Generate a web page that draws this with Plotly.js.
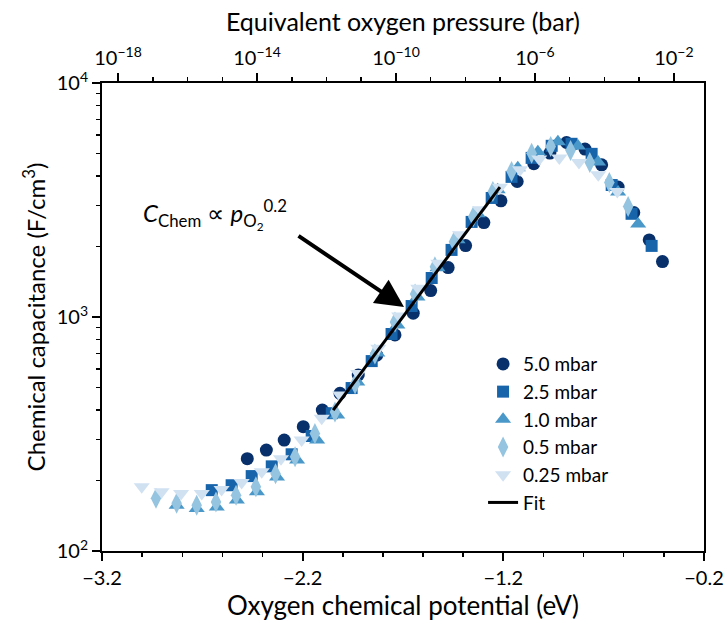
<!DOCTYPE html>
<html>
<head>
<meta charset="utf-8">
<script src="https://cdn.plot.ly/plotly-3.0.1.min.js"></script>
<style>html,body{margin:0;padding:0;background:#fff;}#chart{width:724px;height:628px;}</style>
</head>
<body>
<div id="chart"></div>
<script>
// Oxygen chemical potential (eV) and chemical capacitance (F/cm^3)
const mu50 = [-2.476,-2.381,-2.292,-2.197,-2.102,-2.014,-1.923,-1.831,-1.740,-1.649,-1.562,-1.475,-1.388,-1.297,-1.212,-1.131,-1.048,-0.968,-0.885,-0.793,-0.710,-0.628,-0.550,-0.473,-0.407];
const c50  = [248,270,298,340,400,472,565,687,838,1038,1297,1626,2019,2533,3136,3793,4518,5016,5567,5220,4470,3590,2794,2134,1726];

const mu25 = [-2.653,-2.554,-2.454,-2.354,-2.255,-2.155,-2.055,-1.956,-1.856,-1.757,-1.657,-1.557,-1.458,-1.358,-1.258,-1.159,-1.059,-0.959,-0.860,-0.760,-0.660,-0.561,-0.461];
const c25  = [182,191,209,230,259,310,388,497,648,846,1114,1468,1935,2549,3226,3970,4786,5390,5498,4980,3664,2761,2013];

const mu10 = [-2.828,-2.728,-2.628,-2.528,-2.428,-2.328,-2.228,-2.128,-2.028,-1.928,-1.828,-1.728,-1.628,-1.528,-1.428,-1.328,-1.228,-1.128,-1.028,-0.928,-0.828,-0.728,-0.628,-0.528];
const c10  = [157,152,154,165,179,207,245,298,381,527,702,925,1219,1622,2138,2761,3494,4341,5082,5606,5386,4597,3420,2500];

const mu05 = [-2.931,-2.828,-2.728,-2.632,-2.532,-2.433,-2.335,-2.238,-2.139,-2.039,-1.939,-1.840,-1.740,-1.640,-1.541,-1.446,-1.350,-1.252,-1.159,-1.059,-0.964,-0.865,-0.769,-0.672,-0.578];
const c05  = [168,160,157,162,173,188,214,253,318,393,517,695,951,1254,1641,2099,2685,3436,4186,5012,5354,5152,4575,3758,2967];

const mu025 = [-3.002,-2.903,-2.806,-2.703,-2.604,-2.504,-2.404,-2.308,-2.205,-2.105,-2.014,-1.923,-1.823,-1.719,-1.624,-1.524,-1.416,-1.317,-1.217,-1.117,-1.021,-0.921,-0.823,-0.727,-0.632];
const c025  = [188,179,176,176,183,196,218,248,298,369,464,574,735,1009,1327,1698,2244,2871,3589,4256,4730,4778,4575,4052,3436];

const muFit = [-2.048,-1.217];
const cFit  = [400,3590];

const seriesNames = ['5.0 mbar','2.5 mbar','1.0 mbar','0.5 mbar','0.25 mbar','Fit'];

// Top axis: equivalent oxygen pressure (bar), log10 range matching -3.2 .. -0.2 eV
const pRangeLog = [-18.462,-1.133];
const pTickVals = [1e-18,1e-14,1e-10,1e-6,1e-2];
const pTickText = ['10<sup>−18</sup>','10<sup>−14</sup>','10<sup>−10</sup>','10<sup>−6</sup>','10<sup>−2</sup>'];
const pMinorVals = [];
for (let e = -18; e <= -2; e++) pMinorVals.push(Math.pow(10, e));

const cTickVals = [100,1000,10000];
const cTickText = ['10<sup>2</sup>','10<sup>3</sup>','10<sup>4</sup>'];
const cMinorVals = [];
[100,1000].forEach(d => { for (let k = 2; k <= 9; k++) cMinorVals.push(k*d); });

const FONT = 'Lato, "Noto Sans", sans-serif';
const mk = (sym, col, size) => ({symbol: sym, color: col, size: size, line: {width: 0}});

const traces = [
  {x: mu50, y: c50, name: seriesNames[0], mode: 'markers', type: 'scatter', marker: mk('circle', '#08306b', 13)},
  {x: mu25, y: c25, name: seriesNames[1], mode: 'markers', type: 'scatter', marker: mk('square', '#1764ab', 12)},
  {x: mu10, y: c10, name: seriesNames[2], mode: 'markers', type: 'scatter', marker: mk('triangle-up', '#4a98c9', 14)},
  {x: mu05, y: c05, name: seriesNames[3], mode: 'markers', type: 'scatter', marker: mk('diamond-tall', '#94c4df', 15)},
  {x: mu025, y: c025, name: seriesNames[4], mode: 'markers', type: 'scatter', marker: mk('triangle-down', '#d0e1f2', 14)},
  {x: muFit, y: cFit, name: seriesNames[5], mode: 'lines', type: 'scatter', line: {color: '#000', width: 3}},
  // empty trace that only makes the top pressure axis exist
  {x: [], y: [], xaxis: 'x2', yaxis: 'y', mode: 'markers', type: 'scatter', showlegend: false, hoverinfo: 'skip'}
];

const axisCommon = {
  showgrid: false, zeroline: false, showline: true, linecolor: '#000', linewidth: 2,
  ticks: 'outside', ticklen: 8, tickwidth: 2, tickcolor: '#000',
  tickfont: {family: FONT, size: 20, color: '#000'}
};

const layout = {
  width: 724, height: 628,
  margin: {l: 102, r: 20, t: 83, b: 77},
  paper_bgcolor: '#fff', plot_bgcolor: '#fff',
  font: {family: FONT, color: '#000'},
  showlegend: true,
  legend: {x: 0.633, y: 0.44, xanchor: 'left', yanchor: 'top', bgcolor: 'rgba(0,0,0,0)',
           font: {family: FONT, size: 19, color: '#000'}, tracegroupgap: 0},
  xaxis: Object.assign({}, axisCommon, {
    range: [-3.2, -0.2], tick0: -3.2, dtick: 1, mirror: false,
    minor: {ticks: 'outside', ticklen: 4, tickwidth: 1.5, tickcolor: '#000', dtick: 0.2, tick0: -3.2, showgrid: false},
    title: {text: 'Oxygen chemical potential (eV)', font: {family: FONT, size: 26, color: '#000'}, standoff: 9}
  }),
  xaxis2: Object.assign({}, axisCommon, {
    overlaying: 'x', side: 'top', anchor: 'y', type: 'log', range: pRangeLog,
    tickmode: 'array', tickvals: pTickVals, ticktext: pTickText,
    minor: {ticks: 'outside', ticklen: 4, tickwidth: 1.5, tickcolor: '#000', tickvals: pMinorVals, showgrid: false},
    title: {text: 'Equivalent oxygen pressure (bar)', font: {family: FONT, size: 25, color: '#000'}, standoff: 4}
  }),
  yaxis: Object.assign({}, axisCommon, {
    type: 'log', range: [2, 4], mirror: true,
    tickmode: 'array', tickvals: cTickVals, ticktext: cTickText,
    minor: {ticks: 'outside', ticklen: 4, tickwidth: 1.5, tickcolor: '#000', tickvals: cMinorVals, showgrid: false},
    title: {text: 'Chemical capacitance (F/cm<sup>3</sup>)', font: {family: FONT, size: 24, color: '#000'}, standoff: 4}
  }),
  annotations: [
    {x: -1.695, y: 3.043, xref: 'x', yref: 'y', ax: -107, ay: -72, axref: 'pixel', ayref: 'pixel',
     showarrow: true, arrowhead: 2, arrowsize: 1.4, arrowwidth: 4, arrowcolor: '#000', text: ''},
    {x: -3.006, y: 3.44, xref: 'x', yref: 'y', xanchor: 'left', yanchor: 'middle', showarrow: false,
     text: '<i>C</i><sub>Chem</sub> ∝ <i>p</i><sub>O<sub>2</sub></sub><sup>0.2</sup>',
     font: {family: FONT, size: 24, color: '#000'}}
  ]
};

Plotly.newPlot('chart', traces, layout, {displayModeBar: false, staticPlot: true});
</script>
</body>
</html>
